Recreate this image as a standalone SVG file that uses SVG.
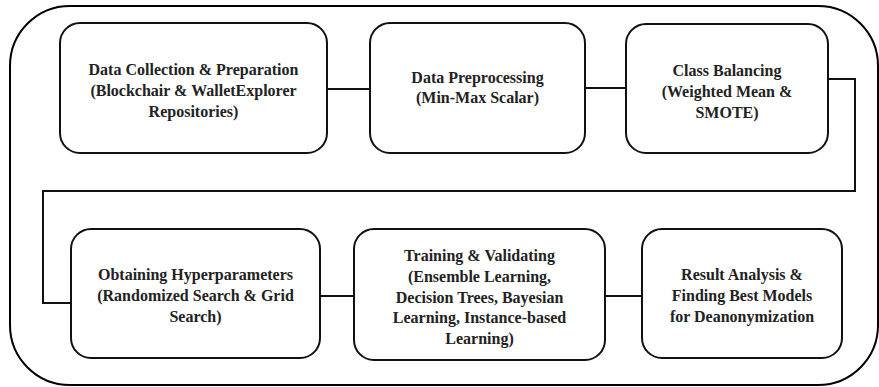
<svg xmlns="http://www.w3.org/2000/svg" width="879" height="387" viewBox="0 0 879 387">
  <style>
    .frame { fill: none; stroke: #000; stroke-width: 2; }
    .box { fill: #fff; stroke: #111; stroke-width: 2; }
    .link { fill: none; stroke: #111; stroke-width: 2; }
    text { font-family: 'Liberation Serif', 'Times New Roman', Times, serif; font-weight: bold; font-size: 16px; fill: #222; text-anchor: middle; }
  </style>
  <rect width="879" height="387" fill="#fff"/>

  <!-- outer frame -->
  <rect class="frame" x="10" y="6" width="868" height="379" rx="60" ry="60"/>

  <!-- connectors -->
  <g id="connectors">
    <line class="link" x1="327" y1="89" x2="370" y2="89"/>
    <line class="link" x1="585" y1="88" x2="626" y2="88"/>
    <polyline class="link" points="828,79 855,79 855,191 43,191 43,303 71,303"/>
    <line class="link" x1="320" y1="296" x2="354" y2="296"/>
    <line class="link" x1="605" y1="296" x2="642" y2="296"/>
  </g>

  <g id="data-collection">
    <rect class="box" x="60" y="23" width="267" height="130" rx="20"/>
    <text x="193.5" y="75">Data Collection &amp; Preparation</text>
    <text x="193.5" y="96">(Blockchair &amp; WalletExplorer</text>
    <text x="193.5" y="117">Repositories)</text>
  </g>

  <g id="preprocessing">
    <rect class="box" x="370" y="23" width="215" height="130" rx="20"/>
    <text x="477.5" y="83">Data Preprocessing</text>
    <text x="477.5" y="103">(Min-Max Scalar)</text>
  </g>

  <g id="class-balancing">
    <rect class="box" x="626" y="24" width="202" height="129" rx="20"/>
    <text x="727" y="76">Class Balancing</text>
    <text x="727" y="97">(Weighted Mean &amp;</text>
    <text x="727" y="118">SMOTE)</text>
  </g>

  <g id="hyperparameters">
    <rect class="box" x="71" y="229" width="249" height="129" rx="20"/>
    <text x="195.5" y="280">Obtaining Hyperparameters</text>
    <text x="195.5" y="301">(Randomized Search &amp; Grid</text>
    <text x="195.5" y="322">Search)</text>
  </g>

  <g id="training">
    <rect class="box" x="354" y="229" width="251" height="131" rx="20"/>
    <text x="479.5" y="261">Training &amp; Validating</text>
    <text x="479.5" y="282">(Ensemble Learning,</text>
    <text x="479.5" y="303">Decision Trees, Bayesian</text>
    <text x="479.5" y="323">Learning, Instance-based</text>
    <text x="479.5" y="344">Learning)</text>
  </g>

  <g id="result-analysis">
    <rect class="box" x="642" y="229" width="200" height="129" rx="20"/>
    <text x="742" y="280">Result Analysis &amp;</text>
    <text x="742" y="301">Finding Best Models</text>
    <text x="742" y="322">for Deanonymization</text>
  </g>
</svg>
